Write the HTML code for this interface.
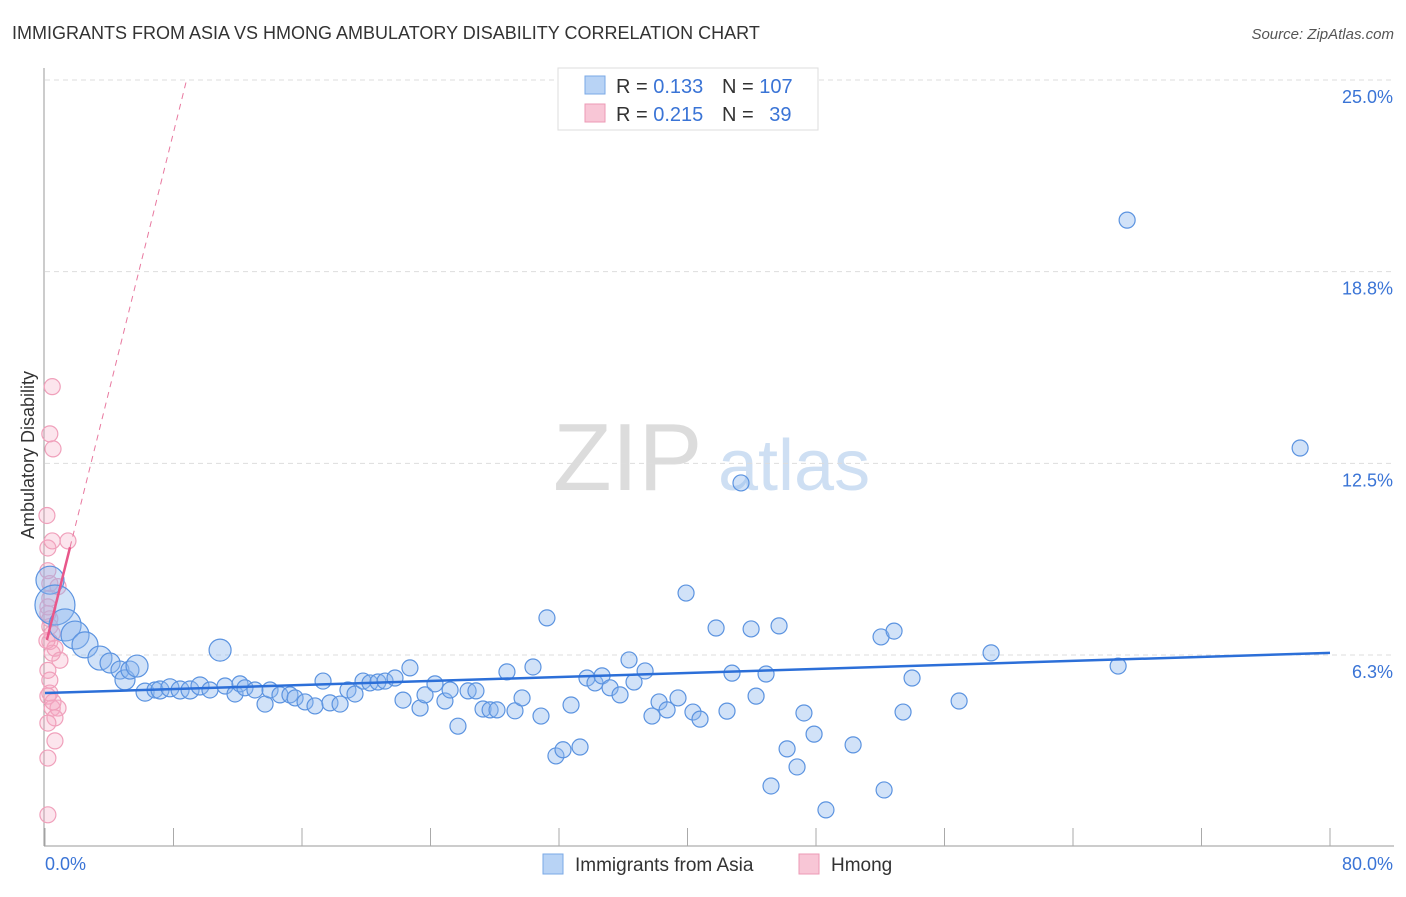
<!DOCTYPE html>
<html><head><meta charset="utf-8"><style>
body{margin:0;background:#fff;font-family:"Liberation Sans",sans-serif}
svg text{font-family:"Liberation Sans",sans-serif}
</style></head><body>
<svg id="chart" width="1406" height="892" viewBox="0 0 1406 892" xmlns="http://www.w3.org/2000/svg">
<text x="12" y="39" font-size="18" fill="#333">IMMIGRANTS FROM ASIA VS HMONG AMBULATORY DISABILITY CORRELATION CHART</text>
<text x="1394" y="39" font-size="15" fill="#555" font-style="italic" text-anchor="end">Source: ZipAtlas.com</text>
<g opacity="0.9">
<text x="553" y="490" font-size="96" font-family="Liberation Serif" fill="#d9d9d9">ZIP</text>
<text x="718" y="490" font-size="72" fill="#c9dcf2">atlas</text>
</g>
<g id="grid"></g>
<g id="axes"></g>
<g id="pts"></g>
<g id="trends"></g>
<text transform="translate(34,455) rotate(-90)" font-size="18" fill="#333" text-anchor="middle">Ambulatory Disability</text>
<g>
<rect x="558" y="68" width="260" height="62" fill="#fff" stroke="#ddd"/>
<rect x="585" y="76" width="20" height="18" fill="#b8d3f5" stroke="#7aa8e6"/>
<rect x="585" y="104" width="20" height="18" fill="#f8c6d6" stroke="#ec9ab5"/>
<text x="616" y="93" font-size="20" fill="#333">R = <tspan fill="#3a74d6">0.133</tspan></text>
<text x="722" y="93" font-size="20" fill="#333">N = <tspan fill="#3a74d6">107</tspan></text>
<text x="616" y="121" font-size="20" fill="#333">R = <tspan fill="#3a74d6">0.215</tspan></text>
<text x="722" y="121" font-size="20" fill="#333">N = <tspan fill="#3a74d6" dx="10">39</tspan></text>
</g>
<g>
<rect x="543" y="854" width="20" height="20" fill="#b8d3f5" stroke="#7aa8e6"/>
<text x="575" y="871" font-size="19" fill="#333">Immigrants from Asia</text>
<rect x="799" y="854" width="20" height="20" fill="#f8c6d6" stroke="#ec9ab5"/>
<text x="831" y="871" font-size="19" fill="#333">Hmong</text>
</g>
</svg>
<script>
const yTicks=[6.25,12.5,18.75,25];
const yTickLabels=["6.3%","12.5%","18.8%","25.0%"];
const xTickLabels=["0.0%","80.0%"];
const asiaX=[0.31,0.62,1.25,1.87,2.49,3.42,4.05,4.67,4.98,5.29,5.73,6.23,6.85,7.16,7.78,8.41,9.03,9.65,10.27,10.90,11.21,11.83,12.14,12.45,13.07,13.70,14.01,14.63,15.25,15.57,16.19,16.81,17.31,17.74,18.37,18.86,19.30,19.80,20.23,20.73,21.17,21.79,22.29,22.72,23.35,23.66,24.28,24.90,25.22,25.71,26.34,26.83,27.27,27.71,28.14,28.76,29.26,29.70,30.38,30.88,31.25,31.81,32.25,32.75,33.31,33.74,34.24,34.68,35.18,35.80,36.36,36.67,37.36,37.79,38.23,38.73,39.41,39.91,40.34,40.78,41.78,42.46,42.77,43.33,43.96,44.27,44.89,45.20,45.70,46.20,46.82,47.25,47.88,48.62,50.31,52.05,52.24,52.86,53.42,53.98,56.91,58.90,66.81,67.37,78.14];
const asiaY=[8.69,7.88,7.23,6.90,6.58,6.15,5.99,5.76,5.44,5.76,5.89,5.04,5.11,5.11,5.18,5.11,5.11,5.24,5.11,6.41,5.24,4.98,5.31,5.18,5.11,4.65,5.11,4.95,4.95,4.85,4.72,4.59,5.40,4.69,4.65,5.11,4.98,5.40,5.34,5.37,5.40,5.50,4.78,5.83,4.52,4.95,5.31,4.75,5.11,3.93,5.08,5.08,4.49,4.46,4.46,5.70,4.43,4.85,5.86,4.26,7.46,2.96,3.16,4.62,3.25,5.50,5.34,5.57,5.18,4.95,6.09,5.37,5.73,4.26,4.72,4.46,4.85,8.27,4.39,4.16,7.13,4.42,5.66,11.86,7.10,4.91,5.63,1.98,7.20,3.19,2.60,4.36,3.67,1.20,3.32,6.84,1.85,7.03,4.39,5.50,4.75,6.32,5.89,20.43,13.00];
const asiaWeight=[14,20,16,14,13,12,10,9,10,9,11,9,8,9,9,9,9,9,8,11];
const hmongX=[0.45,0.3,0.5,0.12,0.18,0.45,1.43,0.18,0.3,0.81,0.3,0.18,0.3,0.45,0.3,0.62,0.93,0.18,0.3,0.18,0.45,0.81,0.62,0.18,0.62,0.18,0.18,0.3,0.18,0.45,0.12,0.3,0.5];
const hmongY=[15.0,13.46,12.97,10.8,9.74,9.97,9.97,9.0,8.58,8.48,8.1,7.6,7.18,6.95,6.69,6.47,6.08,5.75,5.43,4.91,4.52,4.52,4.2,4.03,3.45,2.89,1.04,7.43,7.82,6.31,6.72,5.01,4.72];
const asiaTrend=[5.01,6.32];
const hmongTrend=[6.74,2.1];
const NS="http://www.w3.org/2000/svg";
const X=v=>45+v/80*1285, Y=v=>846.7-v*30.67;
function mk(parent,tag,attrs){const e=document.createElementNS(NS,tag);for(const k in attrs)e.setAttribute(k,attrs[k]);document.getElementById(parent).appendChild(e);return e;}
yTicks.forEach((t,i)=>{
 const l=mk('grid','line',{x1:45,x2:1394,y1:Y(t),y2:Y(t),stroke:'#ddd','stroke-dasharray':'5,4'});
 
 
 const tx=mk('grid','text',{x:1393,y:Y(t)+23,'font-size':18,fill:'#3a74d6','text-anchor':'end'});
 tx.textContent=yTickLabels[i];
 
 
});
const ax=mk('axes','line',{x1:44,x2:44,y1:68,y2:846,stroke:'#999'});


const bx=mk('axes','line',{x1:44,x2:1394,y1:846,y2:846,stroke:'#999'});


for(let i=0;i<=10;i++){
 const t=mk('axes','line',{x1:X(i*8),x2:X(i*8),y1:828,y2:846,stroke:'#aaa'});
 
 
}
const xl0=mk('axes','text',{x:45,y:870,'font-size':18,fill:'#3a74d6'});xl0.textContent=xTickLabels[0];


const xl1=mk('axes','text',{x:1393,y:870,'font-size':18,fill:'#3a74d6','text-anchor':'end'});xl1.textContent=xTickLabels[1];


hmongX.forEach((v,i)=>{
 const c=mk('pts','circle',{cx:X(v),cy:Y(hmongY[i]),r:8,fill:'rgba(246,170,195,0.3)',stroke:'#f0a0bb','stroke-width':1.2});
 
 
});
asiaX.forEach((v,i)=>{
 const c=mk('pts','circle',{cx:X(v),cy:Y(asiaY[i]),r:asiaWeight[i]||8,fill:'rgba(140,182,238,0.4)',stroke:'#5b93e0','stroke-width':1.2});
 
 
});
const at=mk('trends','line',{x1:X(0),y1:Y(asiaTrend[0]),x2:X(80),y2:Y(asiaTrend[1]),stroke:'#2c6fd8','stroke-width':2.5});


const hx0=0.12,hx1=1.56,hx2=hx0+(25-hmongTrend[0])/hmongTrend[1];
const ht=mk('trends','line',{x1:X(hx0),y1:Y(hmongTrend[0]),x2:X(hx1),y2:Y(hmongTrend[0]+(hx1-hx0)*hmongTrend[1]),stroke:'#e8578a','stroke-width':2.5});


const hd=mk('trends','line',{x1:X(hx1),y1:Y(hmongTrend[0]+(hx1-hx0)*hmongTrend[1]),x2:X(hx2),y2:Y(25),stroke:'#e8789f','stroke-width':1,'stroke-dasharray':'6,5'});


</script>
</body></html>
